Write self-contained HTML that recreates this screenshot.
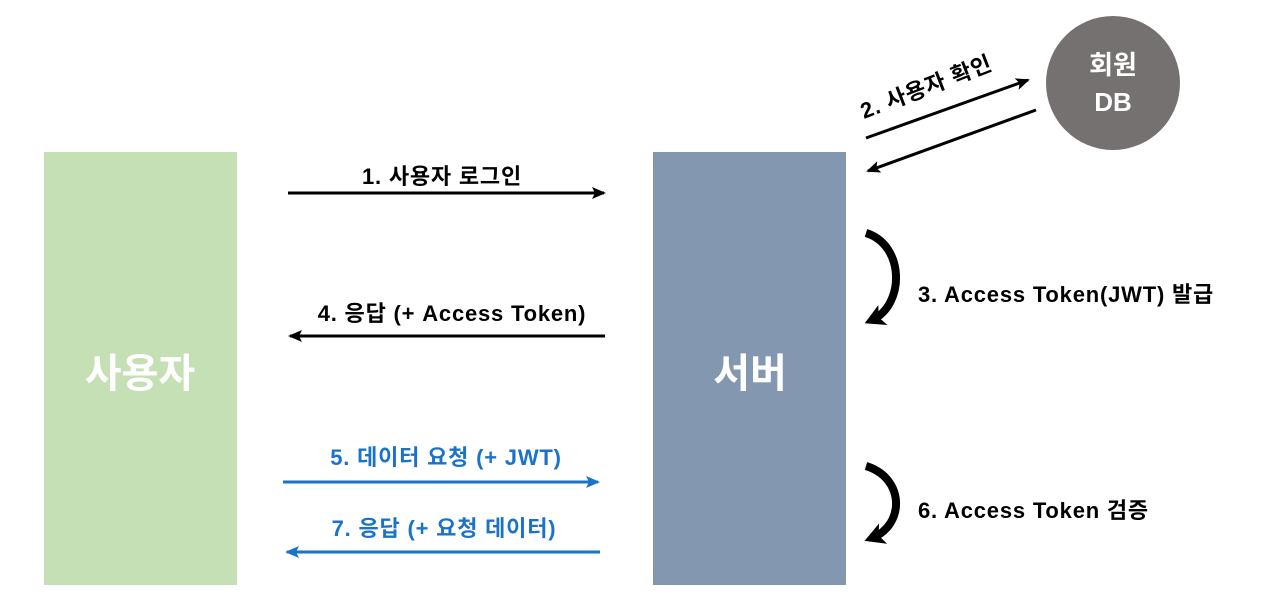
<!DOCTYPE html>
<html><head><meta charset="utf-8"><style>
body{margin:0;background:#fff;width:1265px;height:601px;overflow:hidden;font-family:"Liberation Sans","Noto Sans CJK KR",sans-serif}
</style></head><body>
<svg width="1265" height="601" xmlns="http://www.w3.org/2000/svg" style="font-family:'Liberation Sans','Noto Sans CJK KR',sans-serif">
<defs>
<marker id="ak" markerWidth="14" markerHeight="12" refX="12" refY="6" orient="auto" markerUnits="userSpaceOnUse"><path d="M0,0 L14,6 L0,12 L3,6z" fill="#000"/></marker>
<marker id="ab" markerWidth="14" markerHeight="12" refX="12" refY="6" orient="auto" markerUnits="userSpaceOnUse"><path d="M0,0 L14,6 L0,12 L3,6z" fill="#1a73c8"/></marker>
<marker id="ac" markerWidth="22" markerHeight="22" refX="12" refY="11" orient="auto" markerUnits="userSpaceOnUse"><path d="M0,0 L20,11 L0,22 L5,11z" fill="#000"/></marker>
</defs>
<rect x="44" y="152" width="193" height="433" fill="#c5e0b4"/>
<rect x="653" y="152" width="193" height="433" fill="#8497b0"/>
<circle cx="1113" cy="83" r="67" fill="#767171"/>
<text x="140" y="387" font-size="40" font-weight="bold" fill="#fff" text-anchor="middle">사용자</text>
<text x="750" y="387" font-size="40" font-weight="bold" fill="#fff" text-anchor="middle">서버</text>
<text x="1113" y="74" font-size="26" font-weight="bold" fill="#fff" text-anchor="middle">회원</text>
<text x="1113" y="111" font-size="26" font-weight="bold" fill="#fff" text-anchor="middle">DB</text>
<g font-size="22" font-weight="bold" letter-spacing="0.8" fill="#000">
<line x1="288" y1="193" x2="604" y2="193" stroke="#000" stroke-width="3" marker-end="url(#ak)"/>
<text x="442" y="184" text-anchor="middle">1. 사용자 로그인</text>
<line x1="605" y1="336" x2="290" y2="336" stroke="#000" stroke-width="3" marker-end="url(#ak)"/>
<text x="452" y="321" text-anchor="middle">4. 응답 (+ Access Token)</text>
<line x1="866" y1="138" x2="1028" y2="80" stroke="#000" stroke-width="3" marker-end="url(#ak)"/>
<line x1="1036" y1="110" x2="868" y2="171" stroke="#000" stroke-width="3" marker-end="url(#ak)"/>
<text x="0" y="0" transform="translate(864,119) rotate(-21)">2. 사용자 확인</text>
<path d="M866,233 C905,245 905,305 872,320" fill="none" stroke="#000" stroke-width="8" marker-end="url(#ac)"/>
<text x="918" y="302">3. Access Token(JWT) 발급</text>
<path d="M866,466 C905,478 905,525 872,538" fill="none" stroke="#000" stroke-width="8" marker-end="url(#ac)"/>
<text x="918" y="518">6. Access Token 검증</text>
</g>
<g font-size="22" font-weight="bold" letter-spacing="0.8" fill="#1a73c8">
<line x1="283" y1="482" x2="598" y2="482" stroke="#1a73c8" stroke-width="3" marker-end="url(#ab)"/>
<text x="446" y="465" text-anchor="middle">5. 데이터 요청 (+ JWT)</text>
<line x1="600" y1="552" x2="287" y2="552" stroke="#1a73c8" stroke-width="3" marker-end="url(#ab)"/>
<text x="444" y="536" text-anchor="middle">7. 응답 (+ 요청 데이터)</text>
</g>
</svg>
</body></html>
